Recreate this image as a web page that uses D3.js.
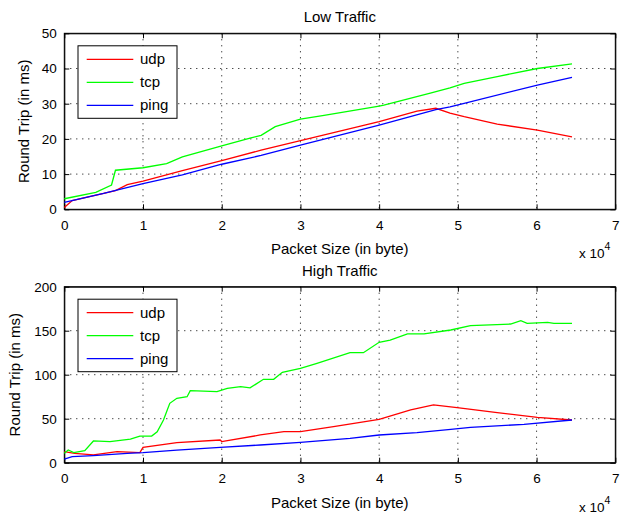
<!DOCTYPE html>
<html>
<head>
<meta charset="utf-8">
<script src="https://cdn.jsdelivr.net/npm/d3@7"></script>
<style>
  body { margin: 0; background: #fff; }
  text { font-family: "Liberation Sans", Arial, sans-serif; fill: #000; }
</style>
</head>
<body>
<div id="chart"></div>
<script>
// packet sizes in bytes, round trip in ms
const seriesNames = ['udp', 'tcp', 'ping'];
const seriesColors = ['#ff0000', '#00ff00', '#0000ff'];
const xTicks = [0, 1, 2, 3, 4, 5, 6, 7];

// Low traffic
const udpLowX = [0, 1000, 5000, 6500, 8000, 10000, 15000, 20000, 25000, 30000, 35000, 40000, 44800, 47200, 49000, 50800, 55000, 60100, 64500];
const udpLowY = [0.5, 2.5, 4.5, 5.3, 7, 8, 11, 13.8, 16.8, 19.5, 22.2, 24.9, 27.9, 28.7, 27.3, 26.3, 24.2, 22.5, 20.6];
const tcpLowX = [0, 4000, 6000, 6500, 10000, 13000, 15000, 20000, 23600, 25000, 26800, 30000, 33000, 40000, 40600, 46500, 49000, 50800, 55000, 60100, 64500];
const tcpLowY = [3, 4.8, 6.9, 11.1, 11.8, 13, 14.9, 18, 20.2, 21, 23.5, 25.6, 26.7, 29.3, 29.6, 33, 34.5, 35.8, 37.7, 40, 41.3];
const pingLowX = [0, 5000, 10000, 15000, 20000, 25000, 30000, 40000, 47200, 49000, 50800, 60100, 64500];
const pingLowY = [2, 4.5, 7.3, 9.8, 12.8, 15.3, 18.2, 23.9, 28.3, 29.1, 30.1, 35.3, 37.5];

// High traffic
const udpHighX = [0, 1300, 3700, 6700, 9600, 10000, 14300, 19800, 20000, 24900, 27900, 30000, 34200, 40000, 44000, 46900, 49900, 55000, 60100, 64500];
const udpHighY = [12.5, 10.7, 9, 12.5, 11.4, 17.5, 22.7, 25.8, 24, 31.5, 35.2, 35.2, 40.9, 49.3, 59.9, 65.6, 62.5, 56.8, 51.6, 48.5];
const tcpHighX = [0, 500, 1200, 2600, 3700, 5800, 8400, 9600, 11100, 11800, 12600, 13400, 14300, 15600, 16000, 19400, 20700, 22400, 23600, 25300, 26600, 27700, 30000, 32100, 36300, 38000, 40000, 41400, 43600, 45700, 49100, 51600, 56700, 58000, 58800, 61400, 62200, 64500];
const tcpHighY = [10.7, 14.4, 11.4, 13.6, 24.7, 23.9, 26.9, 30.3, 30.3, 35.2, 48.5, 67.5, 73.2, 75, 81.8, 80.7, 84.5, 86.4, 85, 94.8, 94.8, 102.7, 107.3, 113, 125, 125, 136.8, 139.4, 146.3, 146.3, 150.8, 155.7, 157.6, 161.4, 158.4, 159.5, 158.4, 158.4];
const pingHighX = [0, 1000, 3700, 8000, 10000, 14300, 19800, 24900, 30000, 36300, 40000, 44800, 49100, 51600, 58400, 64500];
const pingHighY = [4.2, 6.8, 8, 10.7, 11.4, 14.4, 17.5, 20.1, 23.1, 27.7, 31.5, 34.2, 37.9, 40.2, 43.6, 48.5];

const lowTicks = [0, 10, 20, 30, 40, 50];
const highTicks = [0, 50, 100, 150, 200];

const width = 621, height = 514;
const fontFam = '"Liberation Sans", Arial, sans-serif';

const svg = d3.select('#chart').append('svg')
    .attr('width', width)
    .attr('height', height);

function zip(xs, ys) {
    return xs.map((x, i) => ({ x: x, y: ys[i] }));
}

function drawPanel(opts) {
    const left = 64.3, right = 615.3;
    const top = opts.top, bottom = opts.bottom;

    const x = d3.scaleLinear().domain([0, 70000]).range([left, right]);
    const y = d3.scaleLinear().domain([0, opts.yMax]).range([bottom, top]);

    const g = svg.append('g');

    // dotted grid
    g.append('g').selectAll('line')
        .data(xTicks.slice(1, -1))
        .enter().append('line')
        .attr('x1', d => x(d * 1e4)).attr('x2', d => x(d * 1e4))
        .attr('y1', top).attr('y2', bottom)
        .attr('stroke', '#000').attr('stroke-width', 1)
        .attr('stroke-dasharray', '1,5');
    g.append('g').selectAll('line')
        .data(opts.yTicks.slice(1, -1))
        .enter().append('line')
        .attr('x1', left).attr('x2', right)
        .attr('y1', d => y(d)).attr('y2', d => y(d))
        .attr('stroke', '#000').attr('stroke-width', 1)
        .attr('stroke-dasharray', '1,5');

    // axes with inward ticks
    const xAxis = d3.axisBottom(x)
        .tickValues(xTicks.map(d => d * 1e4))
        .tickFormat(d => d / 1e4)
        .tickSizeInner(-5).tickSizeOuter(0).tickPadding(11);
    g.append('g')
        .attr('transform', `translate(0,${bottom})`)
        .call(xAxis)
        .call(a => a.selectAll('text').attr('font-size', 13.5).attr('font-family', fontFam));
    g.append('g')
        .attr('transform', `translate(0,${top})`)
        .call(d3.axisTop(x).tickValues(xTicks.map(d => d * 1e4)).tickSizeInner(-5).tickSizeOuter(0).tickFormat(''));

    const yAxis = d3.axisLeft(y)
        .tickValues(opts.yTicks)
        .tickSizeInner(-5).tickSizeOuter(0).tickPadding(7.5);
    g.append('g')
        .attr('transform', `translate(${left},0)`)
        .call(yAxis)
        .call(a => a.selectAll('text').attr('font-size', 13.5).attr('font-family', fontFam));
    g.append('g')
        .attr('transform', `translate(${right},0)`)
        .call(d3.axisRight(y).tickValues(opts.yTicks).tickSizeInner(-5).tickSizeOuter(0).tickFormat(''));

    g.selectAll('.domain').attr('stroke', '#000');
    g.selectAll('.tick line').attr('stroke', '#000');

    // box
    g.append('rect')
        .attr('x', left).attr('y', top)
        .attr('width', right - left).attr('height', bottom - top)
        .attr('fill', 'none').attr('stroke', '#000').attr('stroke-width', 1);

    // series
    const line = d3.line().x(d => x(d.x)).y(d => y(d.y));
    opts.series.forEach((s, i) => {
        g.append('path')
            .datum(s)
            .attr('d', line)
            .attr('fill', 'none')
            .attr('stroke', seriesColors[i])
            .attr('stroke-width', 1.3);
    });

    // title and labels
    g.append('text')
        .attr('x', (left + right) / 2).attr('y', top - 11)
        .attr('text-anchor', 'middle')
        .attr('font-size', 15)
        .text(opts.title);

    g.append('text')
        .attr('x', (left + right) / 2).attr('y', bottom + 45)
        .attr('text-anchor', 'middle')
        .attr('font-size', 15)
        .text('Packet Size (in byte)');

    g.append('text')
        .attr('transform', `translate(${opts.yLabelX},${(top + bottom) / 2}) rotate(-90)`)
        .attr('text-anchor', 'middle')
        .attr('font-size', 15)
        .text('Round Trip (in ms)');

    const mult = g.append('text')
        .attr('x', 579).attr('y', bottom + 49)
        .attr('font-size', 13.5);
    mult.append('tspan').text('x 10');
    mult.append('tspan').attr('dy', -8).attr('font-size', 10.5).text('4');

    // legend
    const lg = g.append('g').attr('transform', `translate(78,${top + 12.5})`);
    lg.append('rect')
        .attr('width', 99).attr('height', 72.5)
        .attr('fill', '#fff').attr('stroke', '#000').attr('stroke-width', 1);
    seriesNames.forEach((name, i) => {
        const yy = 13.5 + i * 23;
        lg.append('line')
            .attr('x1', 8.7).attr('x2', 55.3)
            .attr('y1', yy).attr('y2', yy)
            .attr('stroke', seriesColors[i]).attr('stroke-width', 1.3);
        lg.append('text')
            .attr('x', 62).attr('y', yy + 5)
            .attr('font-size', 15)
            .text(name);
    });
}

drawPanel({
    title: 'Low Traffic',
    top: 33.3, bottom: 209.3,
    yMax: 50, yTicks: lowTicks,
    yLabelX: 29,
    series: [zip(udpLowX, udpLowY), zip(tcpLowX, tcpLowY), zip(pingLowX, pingLowY)]
});

drawPanel({
    title: 'High Traffic',
    top: 286.7, bottom: 462.7,
    yMax: 200, yTicks: highTicks,
    yLabelX: 20,
    series: [zip(udpHighX, udpHighY), zip(tcpHighX, tcpHighY), zip(pingHighX, pingHighY)]
});
</script>
</body>
</html>
